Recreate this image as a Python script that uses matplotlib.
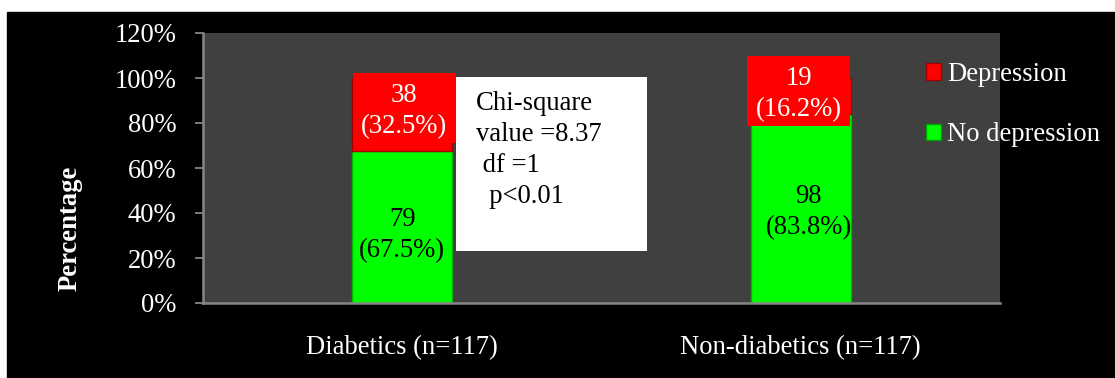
import numpy as np
import matplotlib
matplotlib.use("Agg")
import matplotlib.pyplot as plt
from matplotlib.patches import Rectangle, Patch

# ---- data ----
categories = ["Diabetics (n=117)", "Non-diabetics (n=117)"]
no_dep_counts = [79, 98]
dep_counts = [38, 19]
no_dep_pct = [67.5, 83.8]
dep_pct = [32.5, 16.2]
yticks = [0, 20, 40, 60, 80, 100, 120]
ytick_labels = ["0%", "20%", "40%", "60%", "80%", "100%", "120%"]
series_names = ["Depression", "No depression"]
stats_lines = ["Chi-square", "value =8.37", " df =1", "  p<0.01"]

# ---- style ----
plt.rcParams["font.family"] = ["Liberation Serif", "DejaVu Serif"]
FS = 19.2
W, H = 1115, 378
GREEN, RED = "#00ff00", "#ff0000"
AX_GREY = "#868686"

fig = plt.figure(figsize=(W / 100, H / 100), dpi=100, facecolor="white")
# black canvas with thin white margin on top / left
fig.patches.append(Rectangle((7 / W, 0), 1 - 7 / W, 1 - 12 / H,
                             transform=fig.transFigure, color="black", zorder=-10))

ax = fig.add_axes([203 / W, 75 / H, 797 / W, 270 / H])
ax.set_facecolor("#404040")

x = np.arange(len(categories))
bw = 0.25
ax.bar(x, no_dep_pct, width=bw, color=GREEN, edgecolor="#00b400", linewidth=1, zorder=2)
ax.bar(x, dep_pct, bottom=no_dep_pct, width=bw, color=RED, edgecolor="#a00000",
       linewidth=1, zorder=2)

ax.set_xlim(-0.5, 1.5)
ax.set_ylim(0, 120)
ax.set_yticks(yticks)
ax.set_yticklabels(ytick_labels)
ax.set_xticks(x)
ax.set_xticklabels(categories)
ax.tick_params(axis="y", colors=AX_GREY, labelcolor="white", labelsize=FS,
               length=6, width=1.3, pad=13, direction="out")
ax.tick_params(axis="x", length=0, labelcolor="white", labelsize=FS, pad=23)
for s in ["top", "right"]:
    ax.spines[s].set_visible(False)
for s in ["left", "bottom"]:
    ax.spines[s].set_color(AX_GREY)
    ax.spines[s].set_linewidth(1.8)

# green (No depression) labels
green_dx = [0.0, 0.02]
green_dy = [-3.6, -1.6]
for i in range(len(categories)):
    ax.text(x[i] + green_dx[i], no_dep_pct[i] / 2 + green_dy[i],
            f"{no_dep_counts[i]}\n({no_dep_pct[i]:.1f}%)",
            ha="center", va="center", fontsize=FS, color="black",
            linespacing=1.32, zorder=4)

# red (Depression) label boxes, placed near top of bars
red_box_center = [86.7, 94.2]
red_box_h = 31.1
red_box_w = 0.258
red_box_dx = [0.005, -0.005]
for i in range(len(categories)):
    cx = x[i] + red_box_dx[i]
    ax.add_patch(Rectangle((cx - red_box_w / 2, red_box_center[i] - red_box_h / 2),
                           red_box_w, red_box_h, facecolor=RED, edgecolor="none",
                           zorder=3))
    ax.text(cx, red_box_center[i] - 1.2,
            f"{dep_counts[i]}\n({dep_pct[i]:.1f}%)",
            ha="center", va="center", fontsize=FS, color="white",
            linespacing=1.32, zorder=4)

# chi-square annotation box
ax.add_patch(Rectangle(((456 - 203) / 797, (303 - 251) / 270), 191 / 797, 174 / 270,
                       transform=ax.transAxes, facecolor="white", edgecolor="none",
                       zorder=5, clip_on=False))
baselines = [110, 141, 172, 203]
for line, b in zip(stats_lines, baselines):
    ax.text((476 - 203) / 797, (303 - b) / 270, line, transform=ax.transAxes,
            ha="left", va="baseline", fontsize=FS, color="black", zorder=6)

# y label
fig.text(70 / W, 1 - 228 / H, "Percentage", rotation=90, ha="center", va="center",
         fontsize=FS, fontweight="bold", color="white")

# legend
handles = [Patch(facecolor=RED, edgecolor="#a00000"),
           Patch(facecolor=GREEN, edgecolor="#00a000")]
leg = ax.legend(handles, series_names, loc="upper left",
                bbox_to_anchor=(926 / W, 1 - 62 / H), bbox_transform=fig.transFigure,
                frameon=False, fontsize=FS, labelcolor="white",
                handlelength=0.58, handleheight=0.58, handletextpad=0.2,
                labelspacing=1.33, borderpad=0, borderaxespad=0)

fig.savefig("out.png", dpi=100, facecolor=fig.get_facecolor())
